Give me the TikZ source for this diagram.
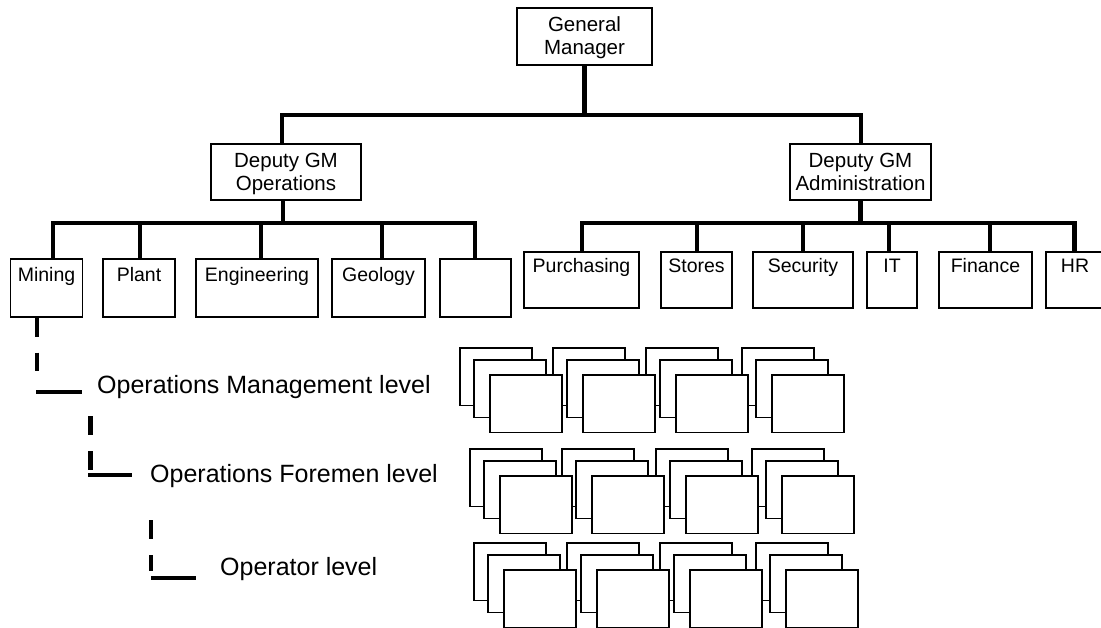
\documentclass[tikz,border=0pt]{standalone}
\usepackage{fontspec}
\setmainfont{Liberation Sans}
\begin{document}
\begin{tikzpicture}[x=1pt,y=-1pt,
  box/.style={draw, fill=white, line width=1.5pt, inner sep=0pt},
  conn/.style={line width=4.3pt},
  bar/.style={line width=4.3pt, line cap=rect},
  lvldash/.style={line width=4.5pt, dash pattern=on 19pt off 16pt},
  lvlline/.style={line width=4.8pt},
  head/.style={inner sep=0pt, align=center, anchor=north, font=\fontsize{20.5}{23}\selectfont},
  sub/.style={inner sep=0pt, anchor=base, font=\fontsize{19.5}{22}\selectfont},
  lvl/.style={inner sep=0pt, anchor=base west, font=\fontsize{25}{30}\selectfont},
  stk/.style={draw, fill=white, line width=1.5pt, inner sep=0pt, minimum width=72pt, minimum height=57.5pt}]
\useasboundingbox (0,0) rectangle (1101,628);
\clip (0,0) rectangle (1101,628);

% ---- top levels ----
\node[box, minimum width=135pt, minimum height=57pt] (gm) at (584.5,36.5) {};
\node[head] (gmt) at (584.5,16) {General\\Manager};
\node[box, minimum width=150pt, minimum height=56pt] (dops) at (286,172) {};
\node[head] (dopst) at (286,153) {Deputy GM\\Operations};
\node[box, minimum width=141pt, minimum height=56pt] (dadm) at (860.5,172) {};
\node[head] (dadmt) at (860.5,153) {Deputy GM\\Administration};

% ---- operations children ----
\node[box, minimum width=72pt, minimum height=58pt] (mining) at (46.5,288) {};
\node[box, minimum width=72pt, minimum height=58pt] (plant) at (139,288) {};
\node[box, minimum width=122pt, minimum height=58pt] (eng) at (257,288) {};
\node[box, minimum width=93pt, minimum height=58pt] (geo) at (378.5,288) {};
\node[box, minimum width=71pt, minimum height=58pt] (empty) at (475.5,288) {};
\node[sub] (miningt) at (46.5,282) {Mining};
\node[sub] (plantt) at (139,282) {Plant};
\node[sub] (engt) at (257,282) {Engineering};
\node[sub] (geot) at (378.5,282) {Geology};

% ---- administration children ----
\node[box, minimum width=115pt, minimum height=56pt] (purch) at (581.5,280) {};
\node[box, minimum width=71pt, minimum height=56pt] (stores) at (696.5,280) {};
\node[box, minimum width=100pt, minimum height=56pt] (sec) at (803,280) {};
\node[box, minimum width=50pt, minimum height=56pt] (it) at (892,280) {};
\node[box, minimum width=93pt, minimum height=56pt] (fin) at (985.5,280) {};
\node[box, minimum width=58pt, minimum height=56pt] (hr) at (1075,280) {};
\node[sub] (purcht) at (581.5,273) {Purchasing};
\node[sub] (storest) at (696.5,273) {Stores};
\node[sub] (sect) at (803,273) {Security};
\node[sub] (itt) at (892,273) {IT};
\node[sub] (fint) at (985.5,273) {Finance};
\node[sub] (hrt) at (1075,273) {HR};

% ---- connectors ----
\coordinate (topL) at (282,115);
\coordinate (topR) at (861,115);
\draw[bar] (topL) -- (topR);
\draw[conn] (gm.south) -- (gm.south |- topL);
\draw[conn] (dops.north -| topL) -- (topL);
\draw[conn] (dadm.north -| topR) -- (topR);

\coordinate (opsL) at (53,223);
\coordinate (opsR) at (475,223);
\draw[bar] (opsL) -- (opsR);
\draw[conn] ([xshift=-3pt]dops.south) -- ([xshift=-3pt]dops.south |- opsL);
\draw[conn] ([xshift=6.5pt]mining.north) -- ([xshift=6.5pt]mining.north |- opsL);
\draw[conn] ([xshift=1pt]plant.north) -- ([xshift=1pt]plant.north |- opsL);
\draw[conn] ([xshift=4pt]eng.north) -- ([xshift=4pt]eng.north |- opsL);
\draw[conn] ([xshift=3.5pt]geo.north) -- ([xshift=3.5pt]geo.north |- opsL);
\draw[conn] ([xshift=-0.5pt]empty.north) -- ([xshift=-0.5pt]empty.north |- opsL);

\coordinate (admL) at (582,223);
\coordinate (admR) at (1074.5,223);
\draw[bar] (admL) -- (admR);
\draw[conn] (dadm.south) -- (dadm.south |- admL);
\draw[conn] ([xshift=0.5pt]purch.north) -- ([xshift=0.5pt]purch.north |- admL);
\draw[conn] ([xshift=0.5pt]stores.north) -- ([xshift=0.5pt]stores.north |- admL);
\draw[conn] (sec.north) -- (sec.north |- admL);
\draw[conn] ([xshift=-3pt]it.north) -- ([xshift=-3pt]it.north |- admL);
\draw[conn] ([xshift=4.5pt]fin.north) -- ([xshift=4.5pt]fin.north |- admL);
\draw[conn] ([xshift=-0.5pt]hr.north) -- ([xshift=-0.5pt]hr.north |- admL);

% ---- level labels ----
\node[lvl] (l1) at (97,393) {Operations Management level};
\node[lvl] (l2) at (150,482) {Operations Foremen level};
\node[lvl] (l3) at (220,575) {Operator level};

\coordinate (v1b) at (37,371);
\coordinate (h1a) at (36,392);
\coordinate (h1b) at (82,392);
\draw[lvldash] ([xshift=-9.5pt]mining.south) -- (v1b);
\draw[lvlline] (h1a) -- (h1b);

\coordinate (v2a) at (90.5,416);
\coordinate (v2b) at (90.5,470);
\coordinate (h2a) at (88,475);
\coordinate (h2b) at (132,475);
\draw[lvldash] (v2a) -- (v2b);
\draw[lvlline] (h2a) -- (h2b);

\coordinate (v3a) at (151,520);
\coordinate (v3b) at (151,571);
\coordinate (h3a) at (151,578);
\coordinate (h3b) at (196,578);
\draw[lvldash] (v3a) -- (v3b);
\draw[lvlline] (h3a) -- (h3b);

% ---- stacked boxes ----
\foreach \l/\dx/\dy in {0/0/0,1/14/12,2/30/27}{
  \foreach \r/\ty/\xa/\xb/\xc/\xd in {1/348/460/553/646/742,2/449/470/562/656/752,3/543/474/567/660/756}{
    \foreach \c/\x in {1/\xa,2/\xb,3/\xc,4/\xd}{
      \node[stk] (s\r\c\l) at (\x+\dx+36,\ty+\dy+28.75) {};
    }
  }
}
\end{tikzpicture}
\end{document}
